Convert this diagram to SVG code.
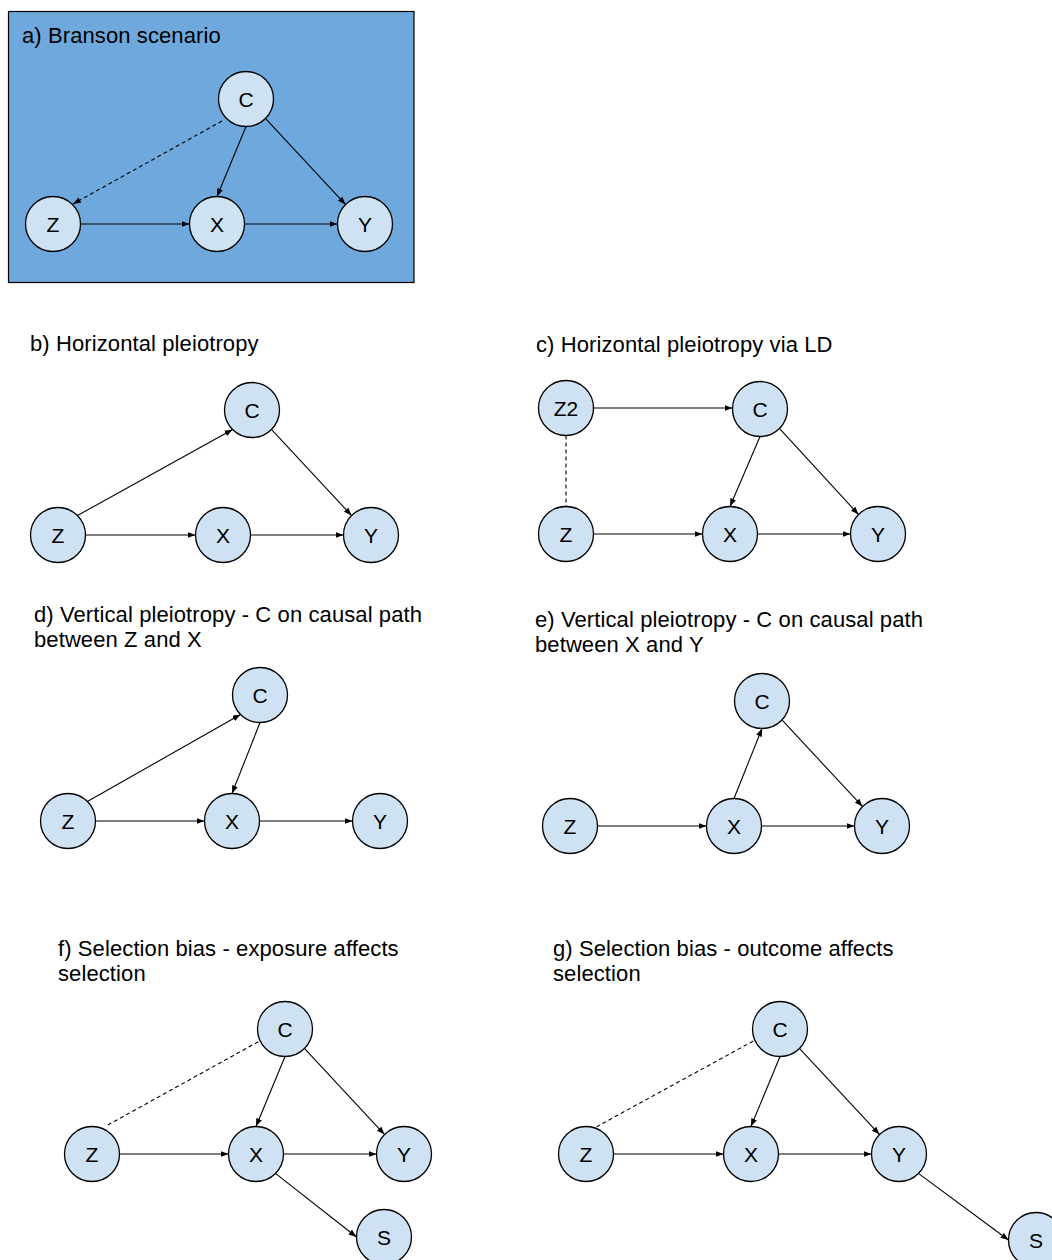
<svg xmlns="http://www.w3.org/2000/svg" width="1052" height="1260" viewBox="0 0 1052 1260">
<style>
.t{font-family:"Liberation Sans",Arial,sans-serif;font-size:22px;letter-spacing:0.1px;fill:#000}
.n circle{fill:#cfe2f3;stroke:#000;stroke-width:1.3}
.n text{font-family:"Liberation Sans",Arial,sans-serif;font-size:21px;fill:#000;text-anchor:middle}
.e line{stroke:#000;stroke-width:1.1;fill:none}
.e .a{marker-end:url(#ah)}
.e .d{stroke-dasharray:4 3}
</style>
<defs>
<marker id="ah" markerUnits="userSpaceOnUse" markerWidth="9" markerHeight="7" refX="8" refY="3" orient="auto">
<path d="M0,0 L8,3 L0,6 z" fill="#000"/>
</marker>
</defs>
<rect width="1052" height="1260" fill="#fff"/>
<rect id="panel-a" x="8.5" y="11.5" width="405.5" height="271" fill="#6fa8dc" stroke="#000" stroke-width="1.2"/>
<g id="titles">
<text class="t" x="22" y="43">a) Branson scenario</text>
<text class="t" x="30" y="351">b) Horizontal pleiotropy</text>
<text class="t" x="536" y="352">c) Horizontal pleiotropy via LD</text>
<text class="t" x="34" y="622">d) Vertical pleiotropy - C on causal path</text>
<text class="t" x="34" y="647">between Z and X</text>
<text class="t" x="535" y="627">e) Vertical pleiotropy - C on causal path</text>
<text class="t" x="535" y="652">between X and Y</text>
<text class="t" x="58" y="956">f) Selection bias - exposure affects</text>
<text class="t" x="58" y="981">selection</text>
<text class="t" x="553" y="956">g) Selection bias - outcome affects</text>
<text class="t" x="553" y="981">selection</text>
</g>
<g id="connectors" class="e">
<!-- a -->
<line class="a d" x1="222" y1="121" x2="73" y2="204"/>
<line class="a" x1="246" y1="126.5" x2="217" y2="196.5"/>
<line class="a" x1="265.4" y1="118.4" x2="345.6" y2="204.6"/>
<line class="a" x1="80.5" y1="224" x2="189.5" y2="224"/>
<line class="a" x1="244.5" y1="224" x2="337.5" y2="224"/>
<!-- b -->
<line class="a" x1="77.4" y1="515.6" x2="232.6" y2="429.4"/>
<line class="a" x1="271.4" y1="429.4" x2="351.6" y2="515.6"/>
<line class="a" x1="85.5" y1="535" x2="195.5" y2="535"/>
<line class="a" x1="250.5" y1="535" x2="343.5" y2="535"/>
<!-- c -->
<line class="a" x1="593.5" y1="408" x2="732.5" y2="408"/>
<line class="d" x1="566" y1="435.5" x2="566" y2="506.5"/>
<line class="a" x1="760" y1="436.5" x2="730" y2="506.5"/>
<line class="a" x1="779.4" y1="428.4" x2="858.6" y2="514.6"/>
<line class="a" x1="593.5" y1="534" x2="702.5" y2="534"/>
<line class="a" x1="757.5" y1="534" x2="850.5" y2="534"/>
<!-- d -->
<line class="a" x1="87.4" y1="801.6" x2="240.6" y2="714.4"/>
<line class="a" x1="260" y1="722.5" x2="232" y2="793.5"/>
<line class="a" x1="95.5" y1="821" x2="204.5" y2="821"/>
<line class="a" x1="259.5" y1="821" x2="352.5" y2="821"/>
<!-- e -->
<line class="a" x1="734" y1="798.5" x2="762" y2="728.5"/>
<line class="a" x1="782.4" y1="720.4" x2="862.6" y2="806.6"/>
<line class="a" x1="597.5" y1="826" x2="706.5" y2="826"/>
<line class="a" x1="761.5" y1="826" x2="854.5" y2="826"/>
<!-- f -->
<line class="d" x1="258.3" y1="1041.7" x2="106" y2="1126"/>
<line class="a" x1="285" y1="1056.5" x2="256" y2="1126.5"/>
<line class="a" x1="304.4" y1="1048.4" x2="384.6" y2="1134.6"/>
<line class="a" x1="119.5" y1="1154" x2="228.5" y2="1154"/>
<line class="a" x1="283.5" y1="1154" x2="376.5" y2="1154"/>
<line class="a" x1="275.4" y1="1173.4" x2="356.5" y2="1237"/>
<!-- g -->
<line class="d" x1="753.3" y1="1041" x2="596.7" y2="1126.7"/>
<line class="a" x1="780" y1="1056.5" x2="751" y2="1126.5"/>
<line class="a" x1="799.4" y1="1048.4" x2="879.6" y2="1134.6"/>
<line class="a" x1="613.5" y1="1154" x2="723.5" y2="1154"/>
<line class="a" x1="778.5" y1="1154" x2="871.5" y2="1154"/>
<line class="a" x1="918.4" y1="1173.4" x2="1008.5" y2="1240"/>
</g>
<g id="a-C" class="n"><circle cx="246" cy="99" r="27.5"/><text x="246" y="106.5">C</text></g>
<g id="a-Z" class="n"><circle cx="53" cy="224" r="27.5"/><text x="53" y="231.5">Z</text></g>
<g id="a-X" class="n"><circle cx="217" cy="224" r="27.5"/><text x="217" y="231.5">X</text></g>
<g id="a-Y" class="n"><circle cx="365" cy="224" r="27.5"/><text x="365" y="231.5">Y</text></g>

<g id="b-C" class="n"><circle cx="252" cy="410" r="27.5"/><text x="252" y="417.5">C</text></g>
<g id="b-Z" class="n"><circle cx="58" cy="535" r="27.5"/><text x="58" y="542.5">Z</text></g>
<g id="b-X" class="n"><circle cx="223" cy="535" r="27.5"/><text x="223" y="542.5">X</text></g>
<g id="b-Y" class="n"><circle cx="371" cy="535" r="27.5"/><text x="371" y="542.5">Y</text></g>

<g id="c-Z2" class="n"><circle cx="566" cy="408" r="27.5"/><text x="566" y="415.5">Z2</text></g>
<g id="c-C" class="n"><circle cx="760" cy="409" r="27.5"/><text x="760" y="416.5">C</text></g>
<g id="c-Z" class="n"><circle cx="566" cy="534" r="27.5"/><text x="566" y="541.5">Z</text></g>
<g id="c-X" class="n"><circle cx="730" cy="534" r="27.5"/><text x="730" y="541.5">X</text></g>
<g id="c-Y" class="n"><circle cx="878" cy="534" r="27.5"/><text x="878" y="541.5">Y</text></g>

<g id="d-C" class="n"><circle cx="260" cy="695" r="27.5"/><text x="260" y="702.5">C</text></g>
<g id="d-Z" class="n"><circle cx="68" cy="821" r="27.5"/><text x="68" y="828.5">Z</text></g>
<g id="d-X" class="n"><circle cx="232" cy="821" r="27.5"/><text x="232" y="828.5">X</text></g>
<g id="d-Y" class="n"><circle cx="380" cy="821" r="27.5"/><text x="380" y="828.5">Y</text></g>

<g id="e-C" class="n"><circle cx="762" cy="701" r="27.5"/><text x="762" y="708.5">C</text></g>
<g id="e-Z" class="n"><circle cx="570" cy="826" r="27.5"/><text x="570" y="833.5">Z</text></g>
<g id="e-X" class="n"><circle cx="734" cy="826" r="27.5"/><text x="734" y="833.5">X</text></g>
<g id="e-Y" class="n"><circle cx="882" cy="826" r="27.5"/><text x="882" y="833.5">Y</text></g>

<g id="f-C" class="n"><circle cx="285" cy="1029" r="27.5"/><text x="285" y="1036.5">C</text></g>
<g id="f-Z" class="n"><circle cx="92" cy="1154" r="27.5"/><text x="92" y="1161.5">Z</text></g>
<g id="f-X" class="n"><circle cx="256" cy="1154" r="27.5"/><text x="256" y="1161.5">X</text></g>
<g id="f-Y" class="n"><circle cx="404" cy="1154" r="27.5"/><text x="404" y="1161.5">Y</text></g>
<g id="f-S" class="n"><circle cx="384" cy="1237" r="27.5"/><text x="384" y="1244.5">S</text></g>

<g id="g-C" class="n"><circle cx="780" cy="1029" r="27.5"/><text x="780" y="1036.5">C</text></g>
<g id="g-Z" class="n"><circle cx="586" cy="1154" r="27.5"/><text x="586" y="1161.5">Z</text></g>
<g id="g-X" class="n"><circle cx="751" cy="1154" r="27.5"/><text x="751" y="1161.5">X</text></g>
<g id="g-Y" class="n"><circle cx="899" cy="1154" r="27.5"/><text x="899" y="1161.5">Y</text></g>
<g id="g-S" class="n"><circle cx="1036" cy="1240" r="27.5"/><text x="1036" y="1247.5">S</text></g>
</svg>
